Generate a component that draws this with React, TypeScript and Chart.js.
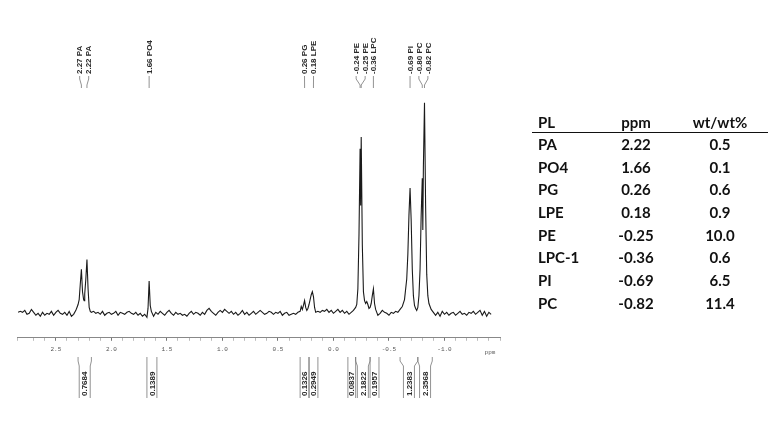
import { useEffect, useRef } from "react";
import { Chart, registerables } from "chart.js";

// Register Chart.js components
Chart.register(...registerables);

// 31P spectrum (intensity in arbitrary units, baseline = 0)
const shiftPpm = [
  2.84, 2.82, 2.8, 2.78, 2.76, 2.74, 2.72, 2.7, 2.68, 2.66, 2.64, 2.62, 2.6, 2.58, 2.56, 2.54, 2.52, 2.5,
  2.48, 2.46, 2.44, 2.42, 2.4, 2.38, 2.36, 2.34, 2.32, 2.31,
  2.3, 2.29, 2.28, 2.27, 2.26, 2.25, 2.245, 2.24, 2.23, 2.22, 2.21, 2.2, 2.19, 2.18,
  2.16, 2.14, 2.12, 2.1, 2.08, 2.06, 2.04, 2.02, 2.0, 1.98, 1.96, 1.94, 1.92, 1.9, 1.88, 1.86, 1.84,
  1.82, 1.8, 1.78, 1.76, 1.74, 1.72, 1.7, 1.68, 1.67, 1.66, 1.65, 1.64, 1.62, 1.6, 1.58, 1.56, 1.54,
  1.52, 1.5, 1.48, 1.46, 1.44, 1.42, 1.4, 1.38, 1.36, 1.34, 1.32, 1.3, 1.28, 1.26, 1.24, 1.22, 1.2,
  1.18, 1.16, 1.14, 1.12, 1.1, 1.08, 1.06, 1.04, 1.02, 1.0, 0.98, 0.96, 0.94, 0.92, 0.9, 0.88, 0.86,
  0.84, 0.82, 0.8, 0.78, 0.76, 0.74, 0.72, 0.7, 0.68, 0.66, 0.64, 0.62, 0.6, 0.58, 0.56, 0.54, 0.52,
  0.5, 0.48, 0.46, 0.44, 0.42, 0.4, 0.38, 0.36, 0.34, 0.32, 0.3, 0.29, 0.28, 0.27, 0.26, 0.25, 0.24,
  0.23, 0.22, 0.21, 0.2, 0.19, 0.18, 0.17, 0.16, 0.14, 0.12, 0.1, 0.08, 0.06, 0.04, 0.02, 0.0,
  -0.02, -0.04, -0.06, -0.08, -0.1, -0.12, -0.14, -0.16, -0.18, -0.2, -0.21, -0.22, -0.23, -0.24,
  -0.245, -0.25, -0.26, -0.27, -0.28, -0.29, -0.3, -0.31, -0.32, -0.33, -0.34, -0.35, -0.36, -0.37,
  -0.38, -0.39, -0.4, -0.42, -0.44, -0.46, -0.48, -0.5, -0.52, -0.54, -0.56, -0.58, -0.6, -0.62,
  -0.64, -0.66, -0.67, -0.68, -0.69, -0.7, -0.71, -0.72, -0.73, -0.74, -0.75, -0.76, -0.77, -0.78,
  -0.79, -0.8, -0.805, -0.81, -0.82, -0.83, -0.84, -0.85, -0.86, -0.87, -0.88, -0.9, -0.92, -0.94,
  -0.96, -0.98, -1.0, -1.02, -1.04, -1.06, -1.08, -1.1, -1.12, -1.14, -1.16, -1.18, -1.2, -1.22,
  -1.24, -1.26, -1.28, -1.3, -1.32, -1.34, -1.36, -1.38, -1.4, -1.42,
];
const intensity = [
  1, 2, 1, 3, -1, 0, 4, 1, -2, 0, -3, 1, -2, 0, -1, 2, -2, 1,
  3, 0, -1, 1, -2, 2, -3, -1, 3, 6,
  9, 14, 30, 45, 22, 14, 13, 20, 35, 55, 25, 6, 2, 1,
  2, 0, 1, -1, 2, -2, 0, 1, -1, 0, 2, -2, 1, 0, -1, 1, 2,
  0, -1, 1, -2, 0, -3, -1, -4, 5, 33, 8, 2, -3, 1, -1, 2, 0,
  -2, 1, 3, 0, -2, 1, -1, 0, -2, -1, -3, 0, 2, -1, 1, 0, -2,
  1, -1, 3, 5, 2, 0, -2, 1, 3, 1, 4, 2, 0, 2, -1, 1, -2,
  0, 3, -1, 1, -2, 0, 2, -1, 1, 3, 1, -1, 0, 2, 1, -1, 1,
  0, 2, -2, 0, 1, -2, -1, 0, -1, 1, 2, 7, 4, 8, 13, 6, 3,
  5, 9, 14, 19, 22, 17, 6, 1, 2, 1, 3, 2, 4, 1, 3, 0,
  2, 4, 1, 3, 0, 2, -1, 1, 3, 6, 9, 25, 80, 168,
  110, 180, 70, 22, 13, 10, 12, 9, 5, 6, 10, 18, 25, 10,
  4, 1, -2, 0, 3, 1, 0, -2, 1, 0, 2, 1, 4, 7,
  14, 35, 60, 100, 128, 95, 45, 18, 8, 5, 3, 6, 18, 45,
  100, 138, 85, 150, 215, 110, 40, 18, 10, 7, 4, 1, -2, 1,
  -3, 2, -1, 1, -2, 0, 1, -2, 0, 2, -1, 0, -2, 1,
  0, 2, -1, 1, 3, -2, 2, -3, 1, -1,
];

// Peak picking labels
const peakPpm = [2.27, 2.22, 1.66, 0.26, 0.18, -0.24, -0.25, -0.36, -0.69, -0.8, -0.82];
const peakNames = ["PA", "PA", "PO4", "PG", "LPE", "PE", "PE", "LPC", "PI", "PC", "PC"];

// Integral regions (ppm) and values
const integralFrom = [2.3, 1.68, 0.3, 0.22, -0.13, -0.2, -0.33, -0.6, -0.76];
const integralTo = [2.18, 1.59, 0.22, 0.14, -0.2, -0.33, -0.41, -0.76, -0.89];
const integralValues = ["0.7684", "0.1389", "0.1326", "0.2949", "0.0837", "2.1822", "0.1957", "1.2383", "2.3568"];

// Labelled axis ticks
const axisLabels = [2.5, 2.0, 1.5, 1.0, 0.5, 0.0, -0.5, -1.0];

// Table on the right
const tablePL = ["PA", "PO4", "PG", "LPE", "PE", "LPC-1", "PI", "PC"];
const tablePpm = ["2.22", "1.66", "0.26", "0.18", "-0.25", "-0.36", "-0.69", "-0.82"];
const tableWt = ["0.5", "0.1", "0.6", "0.9", "10.0", "0.6", "6.5", "11.4"];

const labelled = (v: number) => axisLabels.some((a) => Math.abs(a - v) < 1e-6);

const nmrLabels = {
  id: "nmrLabels",
  afterDraw(chart: any) {
    const ctx = chart.ctx as CanvasRenderingContext2D;
    const x = chart.scales.x;
    ctx.save();

    // peak labels, spread apart when peaks sit close together
    const px = peakPpm.map((p) => x.getPixelForValue(p));
    const gap = 9;
    const order = px.map((_, i) => i).sort((a, b) => px[a] - px[b]);
    const labelX: number[] = new Array(px.length);
    let group = [order[0]];
    const flush = () => {
      const mean = group.reduce((s, i) => s + px[i], 0) / group.length;
      group.forEach((i, k) => (labelX[i] = mean + (k - (group.length - 1) / 2) * gap));
    };
    for (let k = 1; k < order.length; k++) {
      const i = order[k];
      if (px[i] - px[order[k - 1]] < gap) group.push(i);
      else {
        flush();
        group = [i];
      }
    }
    flush();

    ctx.strokeStyle = "#777";
    ctx.lineWidth = 0.8;
    ctx.fillStyle = "#2a2a2a";
    ctx.font = "bold 8px 'Liberation Sans', Arial, sans-serif";
    ctx.textBaseline = "middle";
    ctx.textAlign = "left";
    peakPpm.forEach((p, i) => {
      const lx = labelX[i];
      ctx.beginPath();
      ctx.moveTo(lx, 76);
      ctx.lineTo(lx, 79);
      ctx.lineTo(px[i], 85);
      ctx.lineTo(px[i], 88);
      ctx.stroke();
      ctx.save();
      ctx.translate(lx + 0.5, 74);
      ctx.rotate(-Math.PI / 2);
      ctx.fillText(`${p.toFixed(2)} ${peakNames[i]}`, 0, 0);
      ctx.restore();
    });

    // integral brackets
    integralValues.forEach((val, i) => {
      const xa = x.getPixelForValue(integralFrom[i]);
      const xb = x.getPixelForValue(integralTo[i]);
      const mid = (xa + xb) / 2;
      const boxL = Math.max(xa, mid - 5.5);
      const boxR = Math.min(xb, mid + 5.5);
      ctx.beginPath();
      ctx.moveTo(xa, 357);
      ctx.lineTo(xa, 361);
      ctx.lineTo(boxL, 366);
      ctx.lineTo(boxL, 398);
      ctx.moveTo(xb, 357);
      ctx.lineTo(xb, 361);
      ctx.lineTo(boxR, 366);
      ctx.lineTo(boxR, 398);
      ctx.stroke();
      ctx.save();
      ctx.translate(mid + 0.5, 396);
      ctx.rotate(-Math.PI / 2);
      ctx.fillText(val, 0, 0);
      ctx.restore();
    });

    // axis unit
    ctx.fillStyle = "#555";
    ctx.font = "6px 'Liberation Mono', monospace";
    ctx.textAlign = "center";
    ctx.fillText("ppm", x.getPixelForValue(-1.41), 352);
    ctx.restore();
  },
};

function Spectrum() {
  const chartRef = useRef<HTMLCanvasElement>(null);
  const chartInstance = useRef<Chart | null>(null);

  useEffect(() => {
    if (!chartRef.current) return;
    if (chartInstance.current) chartInstance.current.destroy();
    const ctx = chartRef.current.getContext("2d");
    if (!ctx) return;

    chartInstance.current = new Chart(ctx, {
      type: "line",
      data: {
        datasets: [
          {
            data: shiftPpm.map((p, i) => ({ x: p, y: intensity[i] })),
            borderColor: "#1a1a1a",
            borderWidth: 1.1,
            pointRadius: 0,
            tension: 0,
            fill: false,
          },
        ],
      },
      options: {
        animation: false,
        responsive: false,
        maintainAspectRatio: false,
        layout: { padding: { left: 17, right: 271, top: 90, bottom: 75 } },
        plugins: { legend: { display: false }, tooltip: { enabled: false } },
        scales: {
          x: {
            type: "linear",
            reverse: true,
            min: -1.5,
            max: 2.85,
            border: { display: true, color: "#888", width: 1 },
            grid: {
              drawOnChartArea: false,
              tickLength: 3,
              tickColor: (c: any) => (c.tick && labelled(c.tick.value) ? "#777" : "#bbb"),
            },
            ticks: {
              stepSize: 0.1,
              autoSkip: false,
              maxRotation: 0,
              padding: 5,
              color: "#555",
              font: { family: "'Liberation Mono', monospace", size: 6 },
              callback: (v: any) => {
                const n = Number(v);
                if (!labelled(n)) return "";
                return Math.abs(n) < 1e-9 ? "0.0" : n.toFixed(1);
              },
            },
          },
          y: { display: false, min: -25, max: 228 },
        },
      },
      plugins: [nmrLabels],
    });

    return () => {
      if (chartInstance.current) {
        chartInstance.current.destroy();
        chartInstance.current = null;
      }
    };
  }, []);

  return <canvas ref={chartRef} width={771} height={433} style={{ position: "absolute", left: 0, top: 0 }} />;
}

const cell = { lineHeight: "22.7px", height: 22.7 };

export default function App() {
  return (
    <div style={{ position: "fixed", left: 0, top: 0, width: 771, height: 433, background: "#fff", overflow: "hidden" }}>
      <Spectrum />
      <div
        style={{
          position: "absolute",
          left: 532,
          top: 112,
          width: 236,
          fontFamily: "Lato, 'Open Sans', sans-serif",
          fontWeight: 700,
          fontSize: 15,
          color: "#111",
        }}
      >
        <div style={{ display: "grid", gridTemplateColumns: "68px 72px 96px", height: 20, lineHeight: "20px", borderBottom: "1.5px solid #111" }}>
          <div style={{ paddingLeft: 6 }}>PL</div>
          <div style={{ textAlign: "center" }}>ppm</div>
          <div style={{ textAlign: "center" }}>wt/wt%</div>
        </div>
        {tablePL.map((pl, i) => (
          <div key={pl} style={{ display: "grid", gridTemplateColumns: "68px 72px 96px", ...cell }}>
            <div style={{ paddingLeft: 6 }}>{pl}</div>
            <div style={{ textAlign: "center" }}>{tablePpm[i]}</div>
            <div style={{ textAlign: "center" }}>{tableWt[i]}</div>
          </div>
        ))}
      </div>
    </div>
  );
}
